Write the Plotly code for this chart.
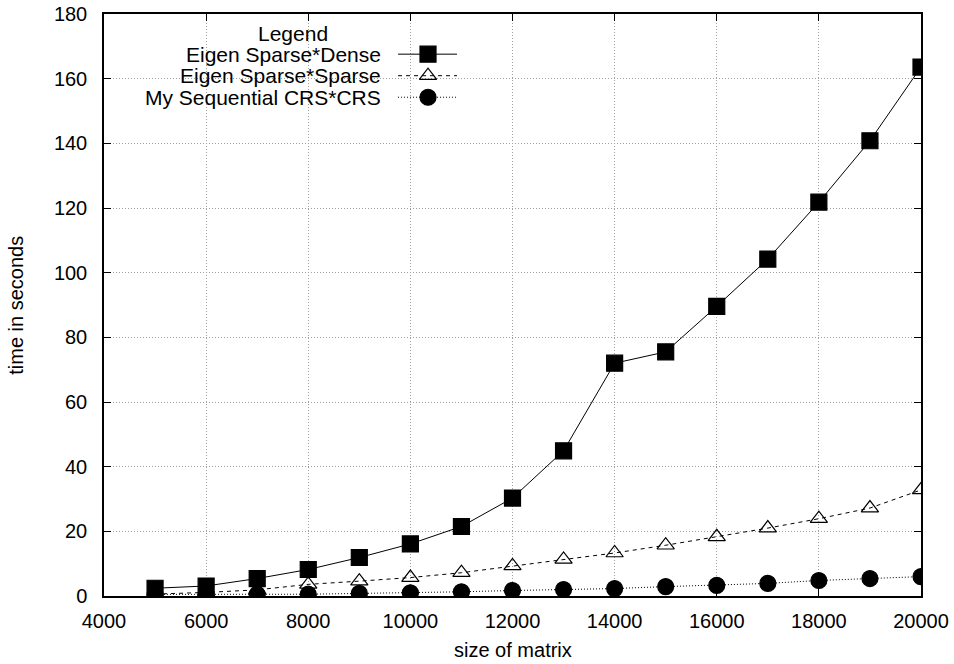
import plotly.graph_objects as go

sizes = [5000, 6000, 7000, 8000, 9000, 10000, 11000, 12000, 13000, 14000,
         15000, 16000, 17000, 18000, 19000, 20000]
dense = [2.4, 3.1, 5.4, 8.2, 11.9, 16.1, 21.5, 30.3, 44.9, 72.0, 75.5, 89.6,
         104.2, 121.8, 140.8, 163.6]
sparse = [0.6, 1.1, 1.9, 3.6, 4.6, 5.7, 7.2, 9.3, 11.3, 13.3, 15.7, 18.3,
          21.0, 23.9, 27.2, 32.8]
crs = [0.5, 0.5, 0.5, 0.55, 0.8, 1.0, 1.3, 1.7, 2.0, 2.3, 2.9, 3.3, 3.9,
       4.8, 5.4, 6.0]
series_names = ["Eigen Sparse*Dense", "Eigen Sparse*Sparse", "My Sequential CRS*CRS"]
legend_title = "Legend"
x_title = "size of matrix"
y_title = "time in seconds"

FONT = "Liberation Sans, Arial, Helvetica, sans-serif"
styles = [
    dict(dash="solid", symbol="square", size=16),
    dict(dash="4px,4px", symbol="triangle-up-open", size=15),
    dict(dash="1px,2px", symbol="circle", size=16),
]
values = [dense, sparse, crs]

fig = go.Figure()
for name, vals, st in zip(series_names, values, styles):
    fig.add_trace(go.Scatter(
        x=sizes, y=vals, mode="lines+markers", name=name, showlegend=False,
        line=dict(color="black", width=1, dash=st["dash"]),
        marker=dict(symbol=st["symbol"], size=st["size"], color="black",
                    line=dict(color="black", width=1.2)),
    ))

# custom gnuplot-style key (text right-aligned, sample to the right)
key_rows_y = [0.931, 0.894, 0.857]
key_text_x = 0.3415
key_line_x = [0.3599, 0.4321]
key_mark_x = 0.3966
for name, st, ky in zip(series_names, styles, key_rows_y):
    fig.add_trace(go.Scatter(
        x=key_line_x, y=[ky, ky], xaxis="x2", yaxis="y2", mode="lines",
        showlegend=False, hoverinfo="skip",
        line=dict(color="black", width=1, dash=st["dash"]),
    ))
    fig.add_trace(go.Scatter(
        x=[key_mark_x], y=[ky], xaxis="x2", yaxis="y2", mode="markers",
        showlegend=False, hoverinfo="skip",
        marker=dict(symbol=st["symbol"], size=st["size"], color="black",
                    line=dict(color="black", width=1.2)),
    ))
    fig.add_annotation(x=key_text_x, y=ky, xref="paper", yref="paper",
                       text=name, showarrow=False, xanchor="right",
                       yanchor="middle", font=dict(size=21, color="black"))
fig.add_annotation(x=0.2313, y=0.967, xref="paper", yref="paper",
                   text=legend_title, showarrow=False, xanchor="center",
                   yanchor="middle", font=dict(size=21, color="black"))

# white key background over the grid
fig.add_shape(type="rect", xref="paper", yref="paper", x0=0.05, x1=0.45,
              y0=0.838, y1=0.998, fillcolor="white", line=dict(width=0),
              layer="between")

# axis titles
fig.add_annotation(x=0.5, y=-0.092, xref="paper", yref="paper", text=x_title,
                   showarrow=False, xanchor="center", yanchor="middle",
                   font=dict(size=20, color="black"))
fig.add_annotation(x=-0.108, y=0.5, xref="paper", yref="paper", text=y_title,
                   showarrow=False, textangle=-90, xanchor="center",
                   yanchor="middle", font=dict(size=20, color="black"))

axis_common = dict(
    showline=True, linecolor="black", linewidth=1.5, mirror="ticks",
    ticks="inside", ticklen=7, tickwidth=1, tickcolor="black",
    showgrid=True, gridcolor="#a0a0a0", gridwidth=1, griddash="1px,2px",
    zeroline=False, automargin=False, ticklabeloverflow="allow",
    tickfont=dict(size=20, color="black", family=FONT),
)
fig.update_layout(
    width=954, height=664,
    margin=dict(l=104, r=33, t=14, b=68),
    paper_bgcolor="white", plot_bgcolor="white",
    font=dict(family=FONT, size=20, color="black"),
    xaxis=dict(range=[4000, 20000], dtick=2000, tick0=4000, tickformat="d",
               ticklabelstandoff=6, **axis_common),
    yaxis=dict(range=[0, 180], dtick=20, tick0=0, tickformat="d",
               ticklabelstandoff=11, **axis_common),
    xaxis2=dict(range=[0, 1], overlaying="x", visible=False, fixedrange=True),
    yaxis2=dict(range=[0, 1], overlaying="y", visible=False, fixedrange=True),
)
fig.write_html(
    "out.html",
    config={"displayModeBar": False},
    post_script=("document.body.style.margin='0';"
                 "document.body.style.overflow='hidden';"
                 "document.documentElement.style.overflow='hidden';"),
)
